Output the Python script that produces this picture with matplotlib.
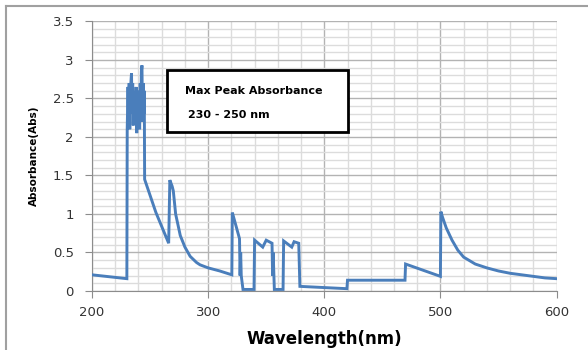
import matplotlib
matplotlib.use("Agg")
import matplotlib.pyplot as plt
from matplotlib.patches import Rectangle
from matplotlib.lines import Line2D
from matplotlib.ticker import MultipleLocator

# UV-Vis absorbance spectrum (wavelength in nm, absorbance in Abs)
wavelength = [
    200, 230, 230.3, 231, 231.5, 232, 232.5, 233, 234, 234.5, 235, 235.5,
    236, 237, 238, 238.5, 239, 240, 240.5, 241, 241.5, 242, 242.5, 243,
    243.5, 244, 244.5, 245, 245.3,
    255, 266, 267, 269, 270, 272, 276, 280, 284.5, 290, 293, 300, 310, 320.4,
    320.8, 327, 327.5, 328, 328.5, 330, 331, 339.5, 340, 347, 350, 355,
    355.5, 356, 357, 364.5, 365, 372, 374, 378, 379,
    419.5, 420, 445, 469.5, 470, 500, 500.4,
    502, 505, 510, 515, 520, 530, 540, 550, 560, 570, 580, 590, 600,
]
absorbance = [
    0.21, 0.16, 2.10, 2.65, 2.20, 2.70, 2.10, 2.60, 2.83, 2.30, 2.70, 2.15,
    2.55, 2.30, 2.65, 2.05, 2.50, 2.20, 2.60, 2.10, 2.70, 2.25, 2.85, 2.93,
    2.20, 2.70, 2.30, 2.60, 1.45,
    1.02, 0.62, 1.44, 1.36, 1.30, 1.00, 0.72, 0.57, 0.45, 0.37, 0.34, 0.30, 0.26, 0.21,
    1.02, 0.68, 0.20, 0.50, 0.20, 0.02, 0.02, 0.02, 0.66, 0.57, 0.66, 0.62,
    0.20, 0.50, 0.02, 0.02, 0.65, 0.57, 0.64, 0.62, 0.06,
    0.03, 0.14, 0.14, 0.14, 0.35, 0.19, 1.03,
    0.95, 0.82, 0.66, 0.53, 0.44, 0.35, 0.30, 0.26, 0.23, 0.21, 0.19, 0.17, 0.16,
]

x_ticks = [200, 300, 400, 500, 600]
y_ticks = [0, 0.5, 1, 1.5, 2, 2.5, 3, 3.5]
y_tick_labels = ["0", "0.5", "1", "1.5", "2", "2.5", "3", "3.5"]

note_lines = ["Max Peak Absorbance", "230 - 250 nm"]

fig = plt.figure(figsize=(5.88, 3.5), dpi=100)
fig.patch.set_facecolor("white")
ax = fig.add_axes([0.1565, 0.1686, 0.790, 0.770])

ax.plot(wavelength, absorbance, color="#4A7EBB", linewidth=2.1,
        solid_joinstyle="miter", zorder=3)

ax.set_xlim(200, 600)
ax.set_ylim(0, 3.5)
ax.set_xticks(x_ticks)
ax.set_yticks(y_ticks)
ax.set_yticklabels(y_tick_labels)
ax.xaxis.set_minor_locator(MultipleLocator(20))
ax.yaxis.set_minor_locator(MultipleLocator(0.1))

# spreadsheet style gridlines
ax.grid(which="major", color="#b3b3b3", linewidth=1.0, zorder=0)
ax.grid(which="minor", color="#dcdcdc", linewidth=1.0, zorder=0)
ax.set_axisbelow(True)

for side in ["top", "right"]:
    ax.spines[side].set_visible(False)
ax.spines["left"].set_color("#8c8c8c")
ax.spines["bottom"].set_color("#8c8c8c")

ax.tick_params(axis="both", which="major", direction="out", length=5,
               color="#8c8c8c", labelsize=9.5, labelcolor="#333333")
ax.tick_params(axis="x", which="major", pad=6)
ax.tick_params(axis="y", which="major", pad=8)
ax.tick_params(which="minor", length=0)

ax.set_xlabel("Wavelength(nm)", fontsize=12, fontweight="bold", labelpad=8)
ax.set_ylabel("Absorbance(Abs)", fontsize=7.5, fontweight="bold", labelpad=10)

# annotation box
ax.add_patch(Rectangle((0.161, 0.59), 0.39, 0.23, transform=ax.transAxes,
                       facecolor="white", edgecolor="black", linewidth=2,
                       zorder=4))
ax.text(0.200, 0.742, note_lines[0], transform=ax.transAxes, fontsize=8,
        fontweight="bold", va="center", ha="left", zorder=5)
ax.text(0.207, 0.653, note_lines[1], transform=ax.transAxes, fontsize=8,
        fontweight="bold", va="center", ha="left", zorder=5)

# outer chart border
fig.add_artist(Line2D([6 / 588, 6 / 588], [0, 1 - 6 / 350],
                      transform=fig.transFigure, color="#a0a0a0", linewidth=1.5))
fig.add_artist(Line2D([6 / 588, 1], [1 - 6 / 350, 1 - 6 / 350],
                      transform=fig.transFigure, color="#a0a0a0", linewidth=1.5))

fig.savefig("out.png", dpi=100)
